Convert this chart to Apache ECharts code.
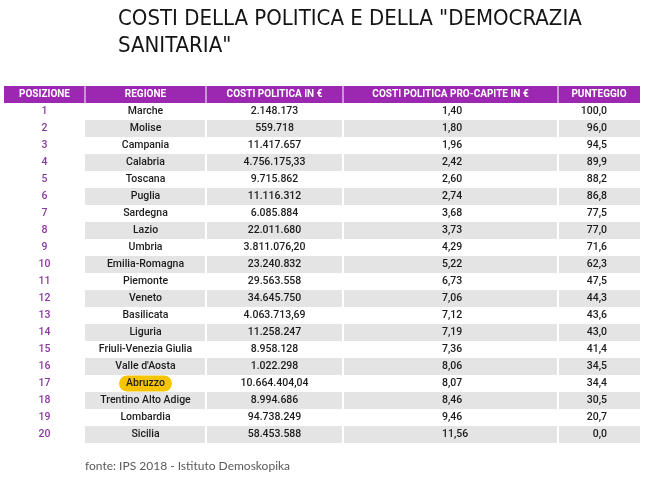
<!DOCTYPE html>
<html>
<head>
<meta charset="utf-8">
<script src="https://cdn.jsdelivr.net/npm/echarts@6/dist/echarts.min.js"></script>
<style>
html,body{margin:0;padding:0;background:#fff;}
#c{width:646px;height:477px;}
</style>
</head>
<body>
<div id="c"></div>
<script>
// ---- data ----
const titolo = 'COSTI DELLA POLITICA E DELLA "DEMOCRAZIA\nSANITARIA"';
const fonte = 'fonte: IPS 2018 - Istituto Demoskopika';
const intestazioni = ['POSIZIONE', 'REGIONE', 'COSTI POLITICA IN €', 'COSTI POLITICA PRO-CAPITE IN €', 'PUNTEGGIO'];
const posizioni = [1, 2, 3, 4, 5, 6, 7, 8, 9, 10, 11, 12, 13, 14, 15, 16, 17, 18, 19, 20];
const regioni = ['Marche', 'Molise', 'Campania', 'Calabria', 'Toscana', 'Puglia', 'Sardegna', 'Lazio', 'Umbria', 'Emilia-Romagna', 'Piemonte', 'Veneto', 'Basilicata', 'Liguria', 'Friuli-Venezia Giulia', "Valle d'Aosta", 'Abruzzo', 'Trentino Alto Adige', 'Lombardia', 'Sicilia'];
const costiPolitica = [2148173, 559718, 11417657, 4756175.33, 9715862, 11116312, 6085884, 22011680, 3811076.20, 23240832, 29563558, 34645750, 4063713.69, 11258247, 8958128, 1022298, 10664404.04, 8994686, 94738249, 58453588];
const costiProCapite = [1.40, 1.80, 1.96, 2.42, 2.60, 2.74, 3.68, 3.73, 4.29, 5.22, 6.73, 7.06, 7.12, 7.19, 7.36, 8.06, 8.07, 8.46, 9.46, 11.56];
const punteggio = [100.0, 96.0, 94.5, 89.9, 88.2, 86.8, 77.5, 77.0, 71.6, 62.3, 47.5, 44.3, 43.6, 43.0, 41.4, 34.5, 34.4, 30.5, 20.7, 0.0];
const evidenziata = 'Abruzzo';

// ---- layout (table units on the x value axis) ----
const bordiColonne = [0, 81, 202, 339, 554, 636];
// text anchor per column for body cells: [align, offset from column start]
const ancore = [['center'], ['center'], ['center'], ['left', 99], ['right', 49]];

function fmtIt(v, dec) {
  const s = v.toFixed(dec);
  let parts = s.split('.');
  let i = parts[0].replace(/\B(?=(\d{3})+(?!\d))/g, '.');
  return parts[1] ? i + ',' + parts[1] : i;
}

const righe = ['header'].concat(posizioni.map(String));

const VIOLA = '#9c28b1';
const GRIGIO = '#e4e4e4';

function renderItem(params, api) {
  const r = api.value(1);
  const yc = api.coord([0, r])[1];
  const h = api.size([0, 1])[1];
  const y0 = yc - h / 2;
  const children = [];
  const isHeader = r === 0;
  const idx = r - 1;
  for (let j = 0; j < 5; j++) {
    const x0 = api.coord([bordiColonne[j], r])[0];
    const x1 = api.coord([bordiColonne[j + 1], r])[0];
    const gl = j > 0 ? 0.5 : 0;
    const gr = j < 4 ? 0.5 : 0;
    if (isHeader) {
      children.push({type: 'rect', shape: {x: x0 + gl, y: y0, width: x1 - x0 - gl - gr, height: h}, style: {fill: VIOLA}});
    } else if (r % 2 === 0 && j >= 1) {
      children.push({type: 'rect', shape: {x: x0 + (j > 1 ? 1 : 0), y: y0, width: x1 - x0 - (j > 1 ? 1 : 0) - (j < 4 ? 1 : 0), height: h}, style: {fill: GRIGIO}});
    }
    let text, align = 'center', tx = (x0 + x1) / 2, fill = '#1c1c1c', font = '500 10.5px Roboto';
    if (isHeader) {
      text = intestazioni[j];
      fill = '#ffffff';
      font = 'bold 10px Roboto';
    } else {
      if (j === 0) { text = String(posizioni[idx]); fill = '#8a3a9e'; font = '500 10.5px Roboto'; }
      else if (j === 1) text = regioni[idx];
      else if (j === 2) text = fmtIt(costiPolitica[idx], Number.isInteger(costiPolitica[idx]) ? 0 : 2);
      else if (j === 3) text = fmtIt(costiProCapite[idx], 2);
      else text = fmtIt(punteggio[idx], 1);
      const a = ancore[j];
      if (a[0] === 'left') { align = 'left'; tx = api.coord([bordiColonne[j] + a[1], r])[0]; }
      else if (a[0] === 'right') { align = 'right'; tx = api.coord([bordiColonne[j] + a[1], r])[0]; }
    }
    const st = {text: text, x: tx, y: yc, align: align, verticalAlign: 'middle', fill: fill, font: font};
    if (!isHeader && j === 1 && regioni[idx] === evidenziata) {
      st.backgroundColor = '#f6c500';
      st.padding = [3, 7, 2, 7];
      st.borderRadius = 8;
    }
    children.push({type: 'text', style: st});
  }
  return {type: 'group', children: children};
}

const chart = echarts.init(document.getElementById('c'), null, {renderer: 'canvas'});
chart.setOption({
  animation: false,
  backgroundColor: '#ffffff',
  title: [
    {
      text: titolo, left: 113, top: 1,
      textStyle: {fontFamily: '"DejaVu Sans Condensed", sans-serif', fontSize: 22, fontWeight: 'normal', color: '#141414', lineHeight: 27}
    },
    {
      text: fonte, left: 80, top: 455,
      textStyle: {fontFamily: 'Lato, "Open Sans", sans-serif', fontSize: 12, fontWeight: 'normal', color: '#5a5a5a'}
    }
  ],
  grid: {left: 4, top: 86, width: 636, height: 357, containLabel: false},
  xAxis: {type: 'value', min: 0, max: 636, show: false},
  yAxis: {type: 'category', data: righe, inverse: true, show: false},
  series: [{
    type: 'custom',
    renderItem: renderItem,
    clip: false,
    data: righe.map((_, i) => [0, i]),
    encode: {x: 0, y: 1},
    silent: true
  }]
});
</script>
</body>
</html>
